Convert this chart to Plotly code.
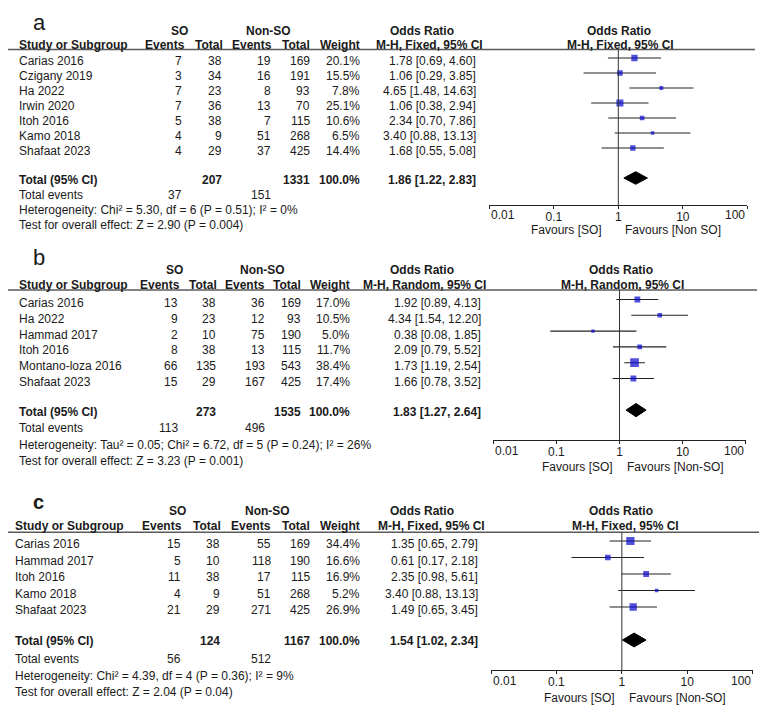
import plotly.graph_objects as go

W, H = 767, 708
OFF = 8  # the page body margin moves the figure 8px right and down

# ---------- panel a ----------
a_studies = ["Carias 2016", "Czigany 2019", "Ha 2022", "Irwin 2020", "Itoh 2016", "Kamo 2018", "Shafaat 2023"]
a_so_events = [7, 3, 7, 7, 5, 4, 4]
a_so_total = [38, 34, 23, 36, 38, 9, 29]
a_non_events = [19, 16, 8, 13, 7, 51, 37]
a_non_total = [169, 191, 93, 70, 115, 268, 425]
a_weight = [20.1, 15.5, 7.8, 25.1, 10.6, 6.5, 14.4]
a_or = [1.78, 1.06, 4.65, 1.06, 2.34, 3.40, 1.68]
a_lo = [0.69, 0.29, 1.48, 0.38, 0.70, 0.88, 0.55]
a_hi = [4.60, 3.85, 14.63, 2.94, 7.86, 13.13, 5.08]
a_totals = [207, 1331]
a_pooled = [1.86, 1.22, 2.83]
a_events = [37, 151]
a_het = "Heterogeneity: Chi² = 5.30, df = 6 (P = 0.51); I² = 0%"
a_test = "Test for overall effect: Z = 2.90 (P = 0.004)"
a_method = "M-H, Fixed, 95% CI"
a_favours = ["Favours [SO]", "Favours [Non SO]"]

# ---------- panel b ----------
b_studies = ["Carias 2016", "Ha 2022", "Hammad 2017", "Itoh 2016", "Montano-loza 2016", "Shafaat 2023"]
b_so_events = [13, 9, 2, 8, 66, 15]
b_so_total = [38, 23, 10, 38, 135, 29]
b_non_events = [36, 12, 75, 13, 193, 167]
b_non_total = [169, 93, 190, 115, 543, 425]
b_weight = [17.0, 10.5, 5.0, 11.7, 38.4, 17.4]
b_or = [1.92, 4.34, 0.38, 2.09, 1.73, 1.66]
b_lo = [0.89, 1.54, 0.08, 0.79, 1.19, 0.78]
b_hi = [4.13, 12.20, 1.85, 5.52, 2.54, 3.52]
b_totals = [273, 1535]
b_pooled = [1.83, 1.27, 2.64]
b_events = [113, 496]
b_het = "Heterogeneity: Tau² = 0.05; Chi² = 6.72, df = 5 (P = 0.24); I² = 26%"
b_test = "Test for overall effect: Z = 3.23 (P = 0.001)"
b_method = "M-H, Random, 95% CI"
b_favours = ["Favours [SO]", "Favours [Non-SO]"]

# ---------- panel c ----------
c_studies = ["Carias 2016", "Hammad 2017", "Itoh 2016", "Kamo 2018", "Shafaat 2023"]
c_so_events = [15, 5, 11, 4, 21]
c_so_total = [38, 10, 38, 9, 29]
c_non_events = [55, 118, 17, 51, 271]
c_non_total = [169, 190, 115, 268, 425]
c_weight = [34.4, 16.6, 16.9, 5.2, 26.9]
c_or = [1.35, 0.61, 2.35, 3.40, 1.49]
c_lo = [0.65, 0.17, 0.98, 0.88, 0.65]
c_hi = [2.79, 2.18, 5.61, 13.13, 3.45]
c_totals = [124, 1167]
c_pooled = [1.54, 1.02, 2.34]
c_events = [56, 512]
c_het = "Heterogeneity: Chi² = 4.39, df = 4 (P = 0.36); I² = 9%"
c_test = "Test for overall effect: Z = 2.04 (P = 0.04)"
c_method = "M-H, Fixed, 95% CI"
c_favours = ["Favours [SO]", "Favours [Non-SO]"]

tick_vals = [0.01, 0.1, 1, 10, 100]
tick_text = ["0.01", "0.1", "1", "10", "100"]

INK = "#1a1a1a"
BLUE = "#0505cc"
FONT = "Liberation Sans, Arial, sans-serif"

# inner tick labels come from the axis; the two end labels are set inside the
# axis ends (RevMan style), so they are written as separate texts below
axis_labels = [""] + tick_text[1:-1] + [""]


def px(x):
    return (x - OFF) / W


def py(y):
    return 1 - (y - OFF) / H


# layout of each panel in page pixels
panels = [
    dict(letter="a", bold_letter=False, letter_y=8, letter_anchor="top", letter_size=22,
         studies=a_studies, cols=[a_so_events, a_so_total, a_non_events, a_non_total],
         weight=a_weight, orr=a_or, lo=a_lo, hi=a_hi, totals=a_totals, pooled=a_pooled,
         events=a_events, het=a_het, test=a_test, method=a_method, favours=a_favours,
         h1=31, h2=44.5, line=49.5, line_right=755, study_x=17, row0=61, pitch=15,
         foot=[180, 194.5, 210, 225], col_x=[183.5, 224, 273, 312, 362, 478],
         head_x=[187, 225, 274, 312, 362, 485], grp_x=[179, 268, 422],
         fx0=489.3, fx1=747.3, axis_y=205, g_row0=58, fav_y=230, fav_shift=[-14, 5],
         rh1_x=619, rh2_x=620),
    dict(letter="b", bold_letter=False, letter_y=257.5, letter_anchor="middle", letter_size=22,
         studies=b_studies, cols=[b_so_events, b_so_total, b_non_events, b_non_total],
         weight=b_weight, orr=b_or, lo=b_lo, hi=b_hi, totals=b_totals, pooled=b_pooled,
         events=b_events, het=b_het, test=b_test, method=b_method, favours=b_favours,
         h1=270, h2=285.3, line=290, line_right=757, study_x=17, row0=303, pitch=15.8,
         foot=[412, 428, 445, 461], col_x=[180, 218, 266.5, 303, 352, 483],
         head_x=[181.5, 218.5, 266.7, 303, 352, 488], grp_x=[174, 262, 422],
         fx0=493.3, fx1=745.7, axis_y=440, g_row0=299.5, fav_y=467, fav_shift=[-5, 5],
         rh1_x=620.5, rh2_x=622),
    dict(letter="c", bold_letter=True, letter_y=501.5, letter_anchor="middle", letter_size=20,
         studies=c_studies, cols=[c_so_events, c_so_total, c_non_events, c_non_total],
         weight=c_weight, orr=c_or, lo=c_lo, hi=c_hi, totals=c_totals, pooled=c_pooled,
         events=c_events, het=c_het, test=c_test, method=c_method, favours=c_favours,
         h1=511, h2=526, line=532.3, line_right=763, study_x=13, row0=544, pitch=16.5,
         foot=[641, 659, 676, 692], col_x=[183, 222, 272.7, 312, 362, 480],
         head_x=[184, 222.7, 272.7, 312, 362, 487], grp_x=[177, 267, 422],
         fx0=491, fx1=752.7, axis_y=670, g_row0=541, fav_y=698, fav_shift=[-5, 5],
         rh1_x=621, rh2_x=625),
]

fig = go.Figure()
annotations = []
shapes = []


def txt(x, y, s, anchor="right", bold=False, size=12, vanchor="middle"):
    if bold:
        s = "<b>" + s + "</b>"
    annotations.append(dict(x=px(x), y=py(y), xref="paper", yref="paper", text=s,
                            showarrow=False, xanchor=anchor, yanchor=vanchor,
                            font=dict(family=FONT, size=size, color=INK)))


for k, p in enumerate(panels):
    n = len(p["studies"])
    xa = "x" if k == 0 else "x%d" % (k + 1)
    ya = "y" if k == 0 else "y%d" % (k + 1)

    # panel letter
    txt(31, p["letter_y"], p["letter"], anchor="left", bold=p["bold_letter"],
        size=p["letter_size"], vanchor=p["letter_anchor"])

    # header
    txt(p["grp_x"][0], p["h1"], "SO", anchor="center", bold=True)
    txt(p["grp_x"][1], p["h1"], "Non-SO", anchor="center", bold=True)
    txt(p["grp_x"][2], p["h1"], "Odds Ratio", anchor="center", bold=True)
    txt(p["rh1_x"], p["h1"], "Odds Ratio", anchor="center", bold=True)
    txt(p["study_x"], p["h2"], "Study or Subgroup", anchor="left", bold=True)
    for hx, lab in zip(p["head_x"], ["Events", "Total", "Events", "Total", "Weight", p["method"]]):
        txt(hx, p["h2"], lab, bold=True)
    txt(p["rh2_x"], p["h2"], p["method"], anchor="center", bold=True)
    shapes.append(dict(type="line", xref="paper", yref="paper", x0=px(0), x1=px(p["line_right"]),
                       y0=py(p["line"]), y1=py(p["line"]), line=dict(color="#5a5a5a", width=1.6)))

    # study rows
    for i in range(n):
        y = p["row0"] + i * p["pitch"]
        txt(p["study_x"], y, p["studies"][i], anchor="left")
        for c, col in enumerate(p["cols"]):
            txt(p["col_x"][c], y, str(col[i]))
        txt(p["col_x"][4], y, "%.1f%%" % p["weight"][i])
        txt(p["col_x"][5], y, "%.2f [%.2f, %.2f]" % (p["orr"][i], p["lo"][i], p["hi"][i]))

    # totals and footer
    ty, ey, hy, sy = p["foot"]
    txt(p["study_x"], ty, "Total (95% CI)", anchor="left", bold=True)
    txt(p["col_x"][1], ty, str(p["totals"][0]), bold=True)
    txt(p["col_x"][3], ty, str(p["totals"][1]), bold=True)
    txt(p["col_x"][4], ty, "100.0%", bold=True)
    txt(p["col_x"][5], ty, "%.2f [%.2f, %.2f]" % tuple(p["pooled"]), bold=True)
    txt(p["study_x"], ey, "Total events", anchor="left")
    txt(p["col_x"][0], ey, str(p["events"][0]))
    txt(p["col_x"][2], ey, str(p["events"][1]))
    txt(p["study_x"], hy, p["het"], anchor="left")
    txt(p["study_x"], sy, p["test"], anchor="left")

    # forest plot
    pitch = p["pitch"]
    y_bottom = (p["axis_y"] - p["g_row0"]) / pitch
    y_top = -(p["g_row0"] - p["line"]) / pitch

    ci_x, ci_y = [], []
    for i in range(n):
        ci_x += [p["lo"][i], p["hi"][i], None]
        ci_y += [i, i, None]
    fig.add_trace(go.Scatter(x=ci_x, y=ci_y, mode="lines", xaxis=xa, yaxis=ya,
                             line=dict(color="#222222", width=1.1), hoverinfo="skip",
                             showlegend=False))
    fig.add_trace(go.Scatter(x=p["orr"], y=list(range(n)), mode="markers", xaxis=xa, yaxis=ya,
                             marker=dict(symbol="square", color=BLUE,
                                         size=[max(3.4, 1.4 * w ** 0.5) for w in p["weight"]],
                                         line=dict(width=0)),
                             showlegend=False))
    est, lo, hi = p["pooled"]
    half = 0.42
    fig.add_trace(go.Scatter(x=[lo, est, hi, est, lo], y=[n + 1, n + 1 - half, n + 1, n + 1 + half, n + 1],
                             mode="lines", fill="toself", fillcolor="black", xaxis=xa, yaxis=ya,
                             line=dict(color="black", width=1), hoverinfo="skip", showlegend=False))

    shapes.append(dict(type="line", xref=xa, yref=ya + " domain", x0=1, x1=1, y0=0, y1=1,
                       line=dict(color="#333333", width=1)))

    # end tick labels, kept inside the axis ends
    txt(p["fx0"], p["axis_y"] + 10.5, tick_text[0], anchor="left")
    txt(p["fx1"], p["axis_y"] + 10.5, tick_text[-1], anchor="right")

    one_px = (p["fx0"] + p["fx1"]) / 2
    txt(one_px + p["fav_shift"][0], p["fav_y"], p["favours"][0], anchor="right")
    txt(one_px + p["fav_shift"][1], p["fav_y"], p["favours"][1], anchor="left")

    axis_kw = dict(type="log", range=[-2, 2], domain=[px(p["fx0"]), px(p["fx1"])], anchor=ya,
                   showgrid=False, zeroline=False, fixedrange=True, automargin=False)
    fig.update_layout(**{
        ("xaxis" if k == 0 else "xaxis%d" % (k + 1)): dict(
            **axis_kw, showline=True, linecolor="#222222", linewidth=1,
            ticks="outside", ticklen=3, tickcolor="#222222", tickwidth=1,
            tickvals=tick_vals, ticktext=axis_labels, ticklabelstandoff=-2,
            tickfont=dict(family=FONT, size=12, color=INK)),
        "xaxis%d" % (k + 4): dict(
            **axis_kw, overlaying=xa, showline=False, ticks="inside", ticklen=3,
            tickcolor="#222222", tickwidth=1, tickvals=tick_vals, showticklabels=False),
        ("yaxis" if k == 0 else "yaxis%d" % (k + 1)): dict(
            range=[y_bottom, y_top], domain=[py(p["axis_y"]), py(p["line"])],
            visible=False, fixedrange=True, automargin=False),
    })

fig.update_layout(template="none", width=W, height=H, margin=dict(l=0, r=0, t=0, b=0, pad=0),
                  paper_bgcolor="white", plot_bgcolor="rgba(0,0,0,0)",
                  annotations=annotations, shapes=shapes, showlegend=False,
                  font=dict(family=FONT, size=12, color=INK))

fig.write_html("out.html")
